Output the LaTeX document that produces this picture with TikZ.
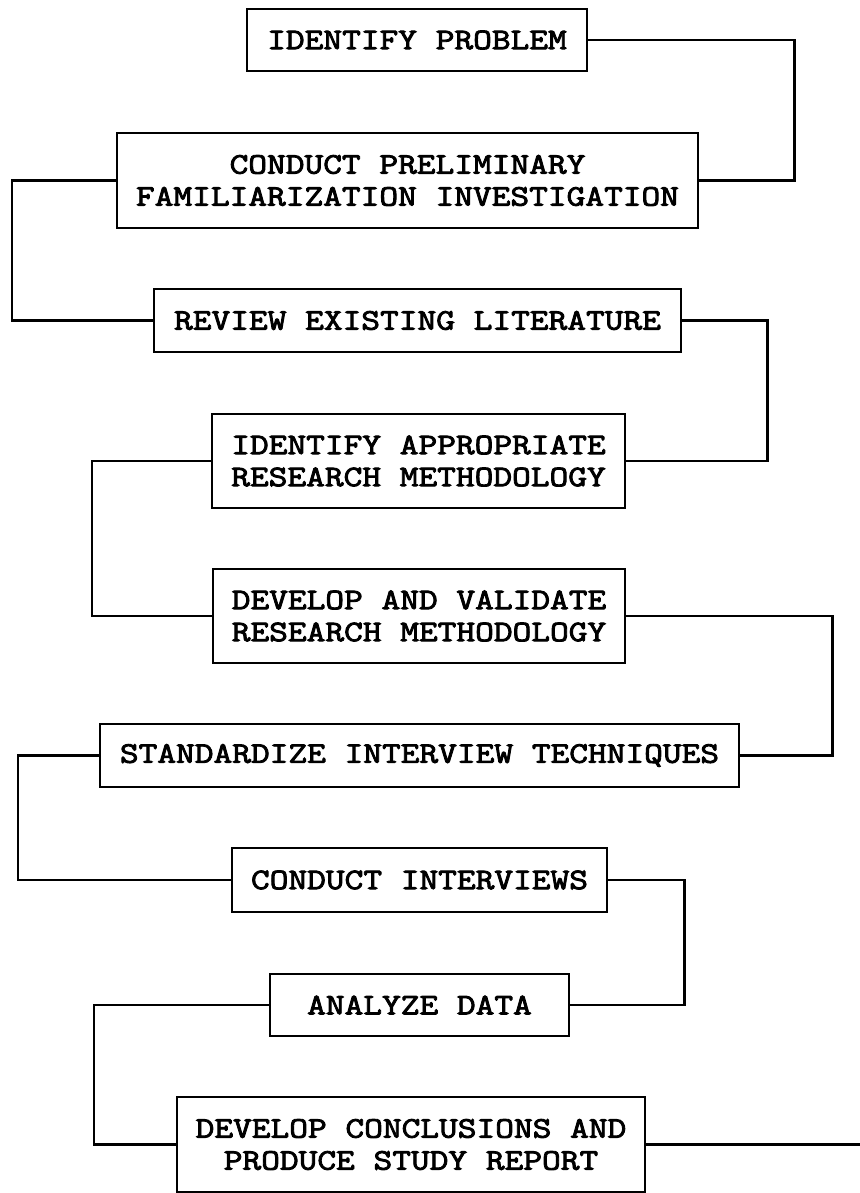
\documentclass[tikz,border=0pt]{standalone}
\usepackage{fontspec}
\newfontfamily\typer{Latin Modern Mono}[FakeStretch=1.22,FakeBold=3]
\usepackage{tikz}
\usetikzlibrary{positioning}

\tikzset{
  stage/.style={draw, line width=1.4pt, inner sep=0pt, align=center,
    font=\typer\fontsize{14.9}{16}\selectfont},
  link/.style={line width=1.1pt}
}

\begin{document}
\begin{tikzpicture}[x=0.5pt,y=0.5pt,yscale=-1,xscale=1]
\useasboundingbox (0,0) rectangle (859,1193);

% Boxes
\node [stage, minimum width=170pt, minimum height=31pt] (idprob) at (417,40) {IDENTIFY PROBLEM};
\node [stage, minimum width=290.5pt, minimum height=47.5pt] (prelim) at (407.5,180.5) {CONDUCT PRELIMINARY\\FAMILIARIZATION INVESTIGATION};
\node [stage, minimum width=263.5pt, minimum height=31.5pt] (review) at (417.5,320.5) {REVIEW EXISTING LITERATURE};
\node [stage, minimum width=206.5pt, minimum height=47pt] (idmeth) at (418.5,461) {IDENTIFY APPROPRIATE\\RESEARCH METHODOLOGY};
\node [stage, minimum width=206pt, minimum height=47pt] (devmeth) at (419,616) {DEVELOP AND VALIDATE\\RESEARCH METHODOLOGY};
\node [stage, minimum width=319.5pt, minimum height=31.5pt] (stdint) at (419.5,755.5) {STANDARDIZE INTERVIEW TECHNIQUES};
\node [stage, minimum width=187.5pt, minimum height=32pt] (interv) at (419.5,880) {CONDUCT INTERVIEWS};
\node [stage, minimum width=149.5pt, minimum height=31pt] (analyze) at (419.5,1005) {ANALYZE DATA};
\node [stage, minimum width=234pt, minimum height=47.5pt] (report) at (411,1144.5) {DEVELOP CONCLUSIONS AND\\PRODUCE STUDY REPORT};

% Connectors, right side
\draw [link] (idprob.east) -- ++(206,0) |- (prelim.east);
\draw [link] (review.east) -- ++(85,0) |- (idmeth.east);
\draw [link] (devmeth.east) -- ++(206,0) |- (stdint.east);
\draw [link] (interv.east) -- ++(76,0) |- (analyze.east);
\draw [link] (report.east) -- ++(214,0);
% Connectors, left side
\draw [link] (prelim.west) -- ++(-104,0) |- (review.west);
\draw [link] (idmeth.west) -- ++(-119,0) |- (devmeth.west);
\draw [link] (stdint.west) -- ++(-81,0) |- (interv.west);
\draw [link] (analyze.west) -- ++(-175,0) |- (report.west);

\end{tikzpicture}
\end{document}
